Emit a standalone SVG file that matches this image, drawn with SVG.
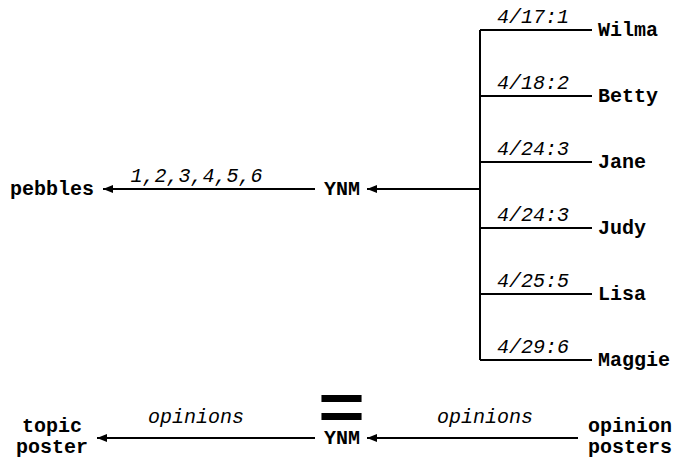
<svg xmlns="http://www.w3.org/2000/svg" width="674" height="458" viewBox="0 0 674 458">
<defs>
<marker id="ah" viewBox="0 0 10 8" refX="10" refY="4" markerWidth="10" markerHeight="8" markerUnits="userSpaceOnUse" orient="auto">
<path d="M0,0 L10,4 L0,8 Z" fill="#000"/>
</marker>
<style>
.n{font-family:"Liberation Mono","Courier New",monospace;font-weight:bold;font-size:20px;fill:#000}
.l{font-family:"Liberation Mono","Courier New",monospace;font-style:italic;font-size:20px;fill:#000}
.e{stroke:#000;stroke-width:2;fill:none}
.a{stroke:#000;stroke-width:2;fill:none;marker-end:url(#ah)}
</style>
</defs>
<rect width="674" height="458" fill="#fff"/>
<g id="connectors">
<path class="e" d="M480,30 V360"/>
<path class="e" d="M480,30 H592"/>
<path class="e" d="M480,96 H592"/>
<path class="e" d="M480,162 H592"/>
<path class="e" d="M480,228 H592"/>
<path class="e" d="M480,294 H592"/>
<path class="e" d="M480,360 H592"/>
<path class="a" d="M480,189 H367"/>
<path class="a" d="M315,189 H103"/>
<path class="a" d="M315,438 H97"/>
<path class="a" d="M578,438 H367"/>
<text class="l" x="497" y="23">4/17:1</text>
<text class="l" x="497" y="89">4/18:2</text>
<text class="l" x="497" y="155">4/24:3</text>
<text class="l" x="497" y="221">4/24:3</text>
<text class="l" x="497" y="287">4/25:5</text>
<text class="l" x="497" y="353">4/29:6</text>
<text class="l" x="196.5" y="182" text-anchor="middle">1,2,3,4,5,6</text>
<text class="l" x="196" y="423" text-anchor="middle">opinions</text>
<text class="l" x="485" y="423" text-anchor="middle">opinions</text>
</g>
<g id="wilma"><text class="n" x="598" y="35.5">Wilma</text></g>
<g id="betty"><text class="n" x="598" y="101.5">Betty</text></g>
<g id="jane"><text class="n" x="598" y="167.5">Jane</text></g>
<g id="judy"><text class="n" x="598" y="233.5">Judy</text></g>
<g id="lisa"><text class="n" x="598" y="299.5">Lisa</text></g>
<g id="maggie"><text class="n" x="598" y="365.5">Maggie</text></g>
<g id="ynm"><text class="n" x="342" y="195" text-anchor="middle">YNM</text></g>
<g id="pebbles"><text class="n" x="52" y="195" text-anchor="middle">pebbles</text></g>
<g id="equals"><text class="n" transform="translate(341.5,429.4) scale(1,0.815)" x="0" y="0" text-anchor="middle" style="font-size:80px">=</text></g>
<g id="ynm2"><text class="n" x="342" y="444" text-anchor="middle">YNM</text></g>
<g id="topic-poster"><text class="n" x="52" y="432" text-anchor="middle">topic</text><text class="n" x="52" y="453" text-anchor="middle">poster</text></g>
<g id="opinion-posters"><text class="n" x="630" y="432" text-anchor="middle">opinion</text><text class="n" x="630" y="453" text-anchor="middle">posters</text></g>
</svg>
